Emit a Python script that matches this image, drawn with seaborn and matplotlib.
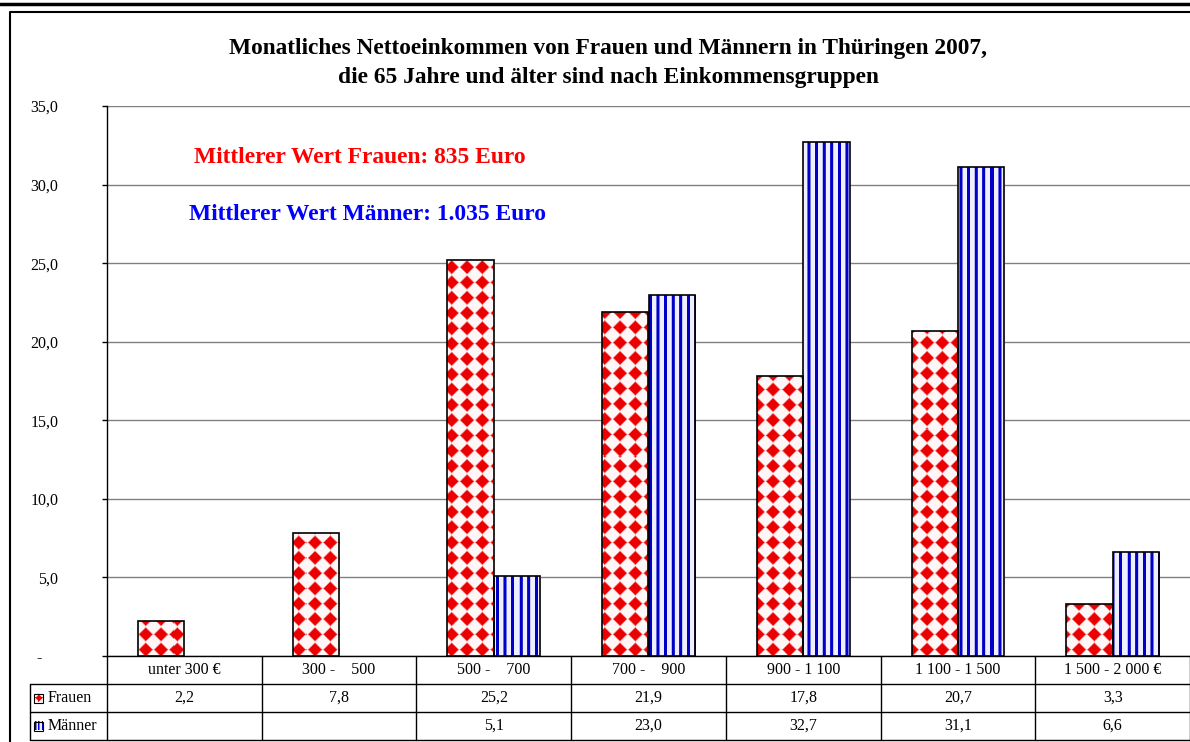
import numpy as np
import pandas as pd
import seaborn as sns
import matplotlib.pyplot as plt
from matplotlib.transforms import blended_transform_factory

# ======================================================
# Data
# ======================================================

categories = ["unter 300 €", "300 -    500", "500 -    700", "700 -    900",
              "900 - 1 100", "1 100 - 1 500", "1 500 - 2 000 €"]
series = ["Frauen", "Männer"]
frauen = [2.2, 7.8, 25.2, 21.9, 17.8, 20.7, 3.3]
maenner = [np.nan, np.nan, 5.1, 23.0, 32.7, 31.1, 6.6]
y_ticks = [0, 5, 10, 15, 20, 25, 30, 35]

title = ("Monatliches Nettoeinkommen von Frauen und Männern in Thüringen 2007,\n"
         "die 65 Jahre und älter sind nach Einkommensgruppen")
note_frauen = "Mittlerer Wert Frauen: 835 Euro"
note_maenner = "Mittlerer Wert Männer: 1.035 Euro"

df = pd.DataFrame({
    "Gruppe": categories * 2,
    "Geschlecht": [series[0]] * len(categories) + [series[1]] * len(categories),
    "Anteil": frauen + maenner,
})

# ======================================================
# Fill patterns (pixel based)
# ======================================================

def diamond_pattern(h, w, p=15.3):
    yy, xx = np.mgrid[0:h, 0:w].astype(float)
    u = (xx % p) / p - 0.5
    v = (yy % p) / p - 0.5
    d = np.abs(u) + np.abs(v)
    t = np.clip((0.45 - d) / 0.14 + 0.5, 0, 1)[..., None]
    red = np.array([0.92, 0.0, 0.0])
    white = np.array([1.0, 0.97, 0.97])
    return white * (1 - t) + red * t


def stripe_pattern(h, w, p=7.6):
    yy, xx = np.mgrid[0:h, 0:w].astype(float)
    u = (xx % p) / p
    t = np.clip((0.2 - np.abs(u - 0.3)) / 0.08 + 0.5, 0, 1)[..., None]
    blue = np.array([0.0, 0.0, 0.78])
    light = np.array([0.94, 0.94, 1.0])
    return light * (1 - t) + blue * t


# ======================================================
# Plot
# ======================================================

sns.set_theme(style="white")
plt.rcParams["font.family"] = ["Liberation Serif", "DejaVu Serif"]
plt.rcParams["text.color"] = "black"
plt.rcParams["xtick.color"] = "black"
plt.rcParams["ytick.color"] = "black"
plt.rcParams["axes.labelcolor"] = "black"

W, H = 1190, 742
fig = plt.figure(figsize=(W / 100, H / 100), dpi=100)

# overlay in pixel coordinates for frame and table
over = fig.add_axes([0, 0, 1, 1], zorder=0)
over.set_xlim(0, W)
over.set_ylim(H, 0)
over.axis("off")
over.patch.set_visible(False)

left, right, top, bottom = 107, 1190, 106, 656
ax = fig.add_axes([left / W, 1 - bottom / H, (right - left) / W, (bottom - top) / H], zorder=1)
ax.patch.set_visible(False)

sns.barplot(
    data=df,
    x="Gruppe",
    y="Anteil",
    hue="Geschlecht",
    order=categories,
    hue_order=series,
    width=0.6,
    errorbar=None,
    edgecolor="black",
    linewidth=1.2,
    legend=False,
    ax=ax,
)

ax.set_xlim(-0.5, len(categories) - 0.5)
ax.set_ylim(0, 35)
xlim, ylim = ax.get_xlim(), ax.get_ylim()

pw, ph = right - left, bottom - top
patterns = [diamond_pattern(ph, pw), stripe_pattern(ph, pw)]
for cont, pat in zip(ax.containers, patterns):
    for bar in cont:
        bar.set_facecolor("none")
        bar.set_zorder(4)
        im = ax.imshow(pat, extent=(xlim[0], xlim[1], ylim[0], ylim[1]),
                       origin="upper", aspect="auto", zorder=3, interpolation="nearest")
        im.set_clip_path(bar)
ax.set_xlim(xlim)
ax.set_ylim(ylim)

# axes styling
ax.set_yticks(y_ticks)
ax.set_yticklabels(["-    "] + [f"{v:.1f}".replace(".", ",") for v in y_ticks[1:]],
                   fontsize=11.5)
ax.yaxis.grid(True, color="#808080", linewidth=1)
ax.set_axisbelow(True)
ax.tick_params(axis="y", left=True, length=3.6, width=1, color="black", pad=31.5)
ax.tick_params(axis="x", bottom=False, labelbottom=False)
ax.set_xlabel("")
ax.set_ylabel("")
for side in ["top", "right"]:
    ax.spines[side].set_visible(False)
for side in ["left", "bottom"]:
    ax.spines[side].set_color("black")
    ax.spines[side].set_linewidth(1)

# title and notes
fig.text(608 / W, 1 - 63 / H, title, ha="center", va="center", fontsize=16.8,
         fontweight="bold", linespacing=1.45, color="black")
over.text(194, 163, note_frauen, color="#ff0000", fontsize=16.9, fontweight="bold",
          va="baseline")
over.text(189, 220, note_maenner, color="#0000ff", fontsize=16.9, fontweight="bold",
          va="baseline")

# frame
over.plot([0, W], [4, 4], color="black", lw=2.5)
over.plot([10, 10, W], [H, 12, 12], color="black", lw=1.5)

# ======================================================
# Data table below the chart
# ======================================================

tr = blended_transform_factory(ax.transData, over.transData)
n = len(categories)
row_y = [656, 684, 712, 740]
lc = dict(color="black", lw=1)

for yv in row_y[1:]:
    over.plot([30, W], [yv, yv], **lc)
over.plot([30, 30], [row_y[1], row_y[3]], **lc)
for i in range(n + 1):
    over.plot([i - 0.5, i - 0.5], [row_y[0], row_y[3]], transform=tr, **lc)

fmt = lambda v: "" if np.isnan(v) else f"{v:.1f}".replace(".", ",")
for i, cat in enumerate(categories):
    yc = (row_y[0] + row_y[1]) / 2
    over.text(i, yc, cat, transform=tr, ha="center", va="center", fontsize=11.5)
    over.text(i, (row_y[1] + row_y[2]) / 2, fmt(frauen[i]), transform=tr,
              ha="center", va="center", fontsize=11.5)
    over.text(i, (row_y[2] + row_y[3]) / 2, fmt(maenner[i]), transform=tr,
              ha="center", va="center", fontsize=11.5)

# row labels with small legend keys
key_red = diamond_pattern(10, 10, p=10)
key_blue = stripe_pattern(10, 10, p=4)
for r, (name, key) in enumerate(zip(series, [key_red, key_blue])):
    yc = (row_y[r + 1] + row_y[r + 2]) / 2
    over.imshow(key, extent=(34, 43, yc + 4.5, yc - 4.5), origin="upper",
                aspect="auto", zorder=3, interpolation="nearest")
    over.add_patch(plt.Rectangle((34, yc - 4.5), 9, 9, fill=False, ec="black", lw=0.8, zorder=4))
    over.text(48, yc, name, ha="left", va="center", fontsize=11.5)
over.set_xlim(0, W)
over.set_ylim(H, 0)

fig.savefig("out.png", dpi=100)
